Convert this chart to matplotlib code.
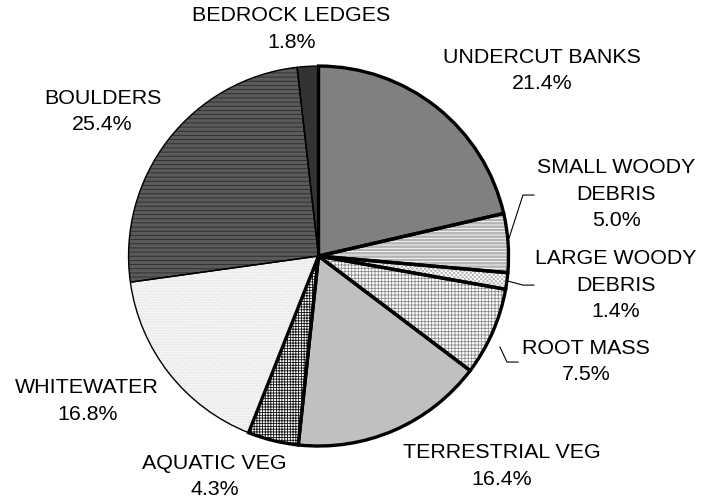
import matplotlib.pyplot as plt

plt.rcParams['font.family'] = ['Liberation Sans', 'DejaVu Sans']
plt.rcParams['hatch.linewidth'] = 0.6

# habitat types, clockwise from the top
labels = ["UNDERCUT BANKS", "SMALL WOODY\nDEBRIS", "LARGE WOODY\nDEBRIS", "ROOT MASS",
          "TERRESTRIAL VEG", "AQUATIC VEG", "WHITEWATER", "BOULDERS", "BEDROCK LEDGES"]
percents = [21.4, 5.0, 1.4, 7.5, 16.4, 4.3, 16.8, 25.4, 1.8]

fills = ["#808080", "#b4b4b4", "#b0b0b0", "#ffffff", "#c0c0c0", "#ffffff", "#f4f4f4", "#5a5a5a", "#333333"]
hatch_cols = ["#808080", "#ffffff", "#ffffff", "#8a8a8a", "#c0c0c0", "#111111", "#e0e0e0", "#2a2a2a", "#333333"]
hatches = [None, "-----", "xxxxxxxx", "+++++", None, "++++++", "......", "----", None]
edge_w = [2.4, 2.4, 2.4, 2.4, 2.4, 2.4, 1.0, 1.0, 1.0]

# label positions (data coords, pie radius = 1)
label_xy = [(1.176, 0.976), (1.566, 0.324), (1.566, -0.153), (1.408, -0.555),
            (0.963, -1.105), (-0.547, -1.161), (-1.218, -0.763), (-1.137, 0.761), (-0.142, 1.195)]
# leader lines for the small slices
leaders = {1: [(1.003, 0.095), (1.076, 0.321), (1.134, 0.321)],
           2: [(0.997, -0.132), (1.076, -0.153), (1.134, -0.153)],
           3: [(0.955, -0.479), (0.992, -0.558), (1.05, -0.558)]}

fig = plt.figure(figsize=(7.01, 5.04), dpi=100)
ax = fig.add_axes([0.1779, 0.1075, 0.553, 0.769])

# fill + hatch layer
wedges, _ = ax.pie(percents, startangle=90, counterclock=False, colors=fills,
                   wedgeprops=dict(linewidth=0))
for w, h, hc in zip(wedges, hatches, hatch_cols):
    if h:
        w.set_hatch(h)
        w.set_edgecolor(hc)
        w.set_linewidth(0)

# outline layer
outl, _ = ax.pie(percents, startangle=90, counterclock=False,
                 wedgeprops=dict(fill=False, edgecolor="black"))
for w, lw in zip(outl, edge_w):
    w.set_linewidth(lw)
    w.set_joinstyle("miter")
for i in range(6):
    outl[i].set_zorder(5)

for i, (lab, p) in enumerate(zip(labels, percents)):
    x, y = label_xy[i]
    ax.text(x, y, f"{lab}\n{p:.1f}%", ha="center", va="center", fontsize=15.4,
            linespacing=1.5, clip_on=False)
for i, pts in leaders.items():
    xs, ys = zip(*pts)
    ax.plot(xs, ys, color="black", linewidth=0.8, clip_on=False)

ax.set_xlim(-1.02, 1.02)
ax.set_ylim(-1.02, 1.02)
ax.set_aspect("equal")

fig.savefig("out.png", dpi=100)
